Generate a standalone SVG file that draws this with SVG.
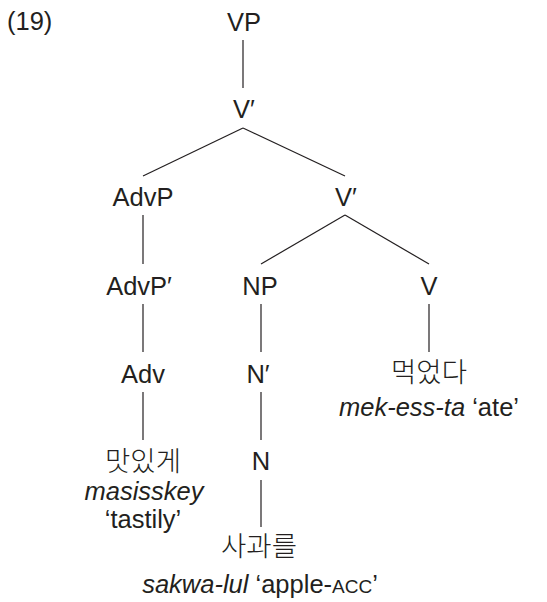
<svg xmlns="http://www.w3.org/2000/svg" width="547" height="602" viewBox="0 0 547 602">
  <style>
    .lbl { font-family: "Liberation Sans", Arial, sans-serif; font-size: 25.5px; fill: #231f20; text-anchor: middle; }
    .kr { font-family: "Noto Sans CJK KR", sans-serif; font-size: 27.5px; font-weight: 300; fill: #231f20; text-anchor: middle; }
    .it { font-style: italic; }
    .sc { font-size: 19px; }
    .edge { stroke: #231f20; stroke-width: 1.2; fill: none; }
  </style>
  <rect width="547" height="602" fill="#ffffff"/>

  <text class="lbl" x="7" y="30" style="text-anchor:start">(19)</text>

  <g id="connectors">
    <line class="edge" x1="243" y1="40" x2="243" y2="88"/>
    <line class="edge" x1="243" y1="128" x2="143" y2="176"/>
    <line class="edge" x1="243" y1="128" x2="345" y2="176"/>
    <line class="edge" x1="143" y1="215" x2="143" y2="264"/>
    <line class="edge" x1="345" y1="215" x2="261" y2="264"/>
    <line class="edge" x1="345" y1="215" x2="429" y2="264"/>
    <line class="edge" x1="143" y1="304" x2="143" y2="352"/>
    <line class="edge" x1="261" y1="304" x2="261" y2="352"/>
    <line class="edge" x1="429" y1="304" x2="429" y2="352"/>
    <line class="edge" x1="143" y1="392" x2="143" y2="440"/>
    <line class="edge" x1="261" y1="392" x2="261" y2="440"/>
    <line class="edge" x1="261" y1="480" x2="261" y2="527"/>
  </g>

  <g id="vp"><text class="lbl" x="244" y="31">VP</text></g>
  <g id="vbar1"><text class="lbl" x="244" y="118">V′</text></g>
  <g id="advp"><text class="lbl" x="143" y="206">AdvP</text></g>
  <g id="vbar2"><text class="lbl" x="346" y="206">V′</text></g>
  <g id="advpbar"><text class="lbl" x="139" y="295">AdvP′</text></g>
  <g id="np"><text class="lbl" x="260" y="295">NP</text></g>
  <g id="v"><text class="lbl" x="429" y="295">V</text></g>
  <g id="adv"><text class="lbl" x="143" y="383">Adv</text></g>
  <g id="nbar"><text class="lbl" x="258" y="383">N′</text></g>
  <g id="verb">
    <text class="kr" x="429" y="382">먹었다</text>
    <text class="lbl" x="429" y="416"><tspan class="it">mek-ess-ta</tspan> ‘ate’</text>
  </g>
  <g id="n"><text class="lbl" x="261" y="470">N</text></g>
  <g id="adverb">
    <text class="kr" x="143" y="471">맛있게</text>
    <text class="lbl it" x="144" y="500">masisskey</text>
    <text class="lbl" x="143" y="528">‘tastily’</text>
  </g>
  <g id="noun">
    <text class="kr" x="259" y="556">사과를</text>
    <text class="lbl" x="260" y="593"><tspan class="it">sakwa-lul</tspan> ‘apple-<tspan class="sc">ACC</tspan>’</text>
  </g>
</svg>
